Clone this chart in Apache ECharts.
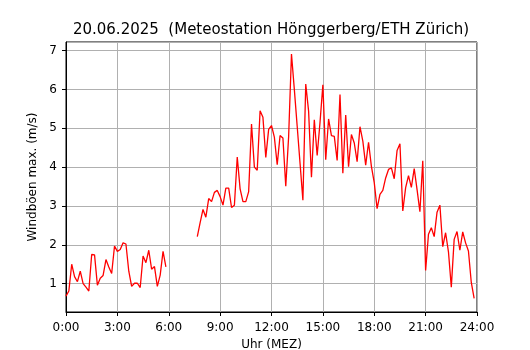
<!DOCTYPE html>
<html>
<head>
<meta charset="utf-8">
<script src="https://cdn.jsdelivr.net/npm/echarts@6/dist/echarts.min.js"></script>
<style>
  html, body { margin: 0; padding: 0; background: #fff; }
  #chart { width: 530px; height: 350px; }
</style>
</head>
<body>
<div id="chart"></div>
<script>
  // Böen-Maxima in 10-Minuten-Schritten, Nacht-Teil (0:00 - 5:50)
  const morningStart = 0 // Minuten
  const morningValues = [
    0.68, 0.81, 1.50, 1.18, 1.05, 1.32, 1.00, 0.91, 0.81, 1.75,
    1.74, 0.96, 1.14, 1.21, 1.62, 1.43, 1.26, 1.97, 1.83, 1.88,
    2.05, 2.02, 1.32, 0.93, 1.01, 1.01, 0.90, 1.71, 1.54, 1.86,
    1.37, 1.44, 0.93, 1.22, 1.83, 1.43
  ]
  // Tagesteil (7:40 - 23:50)
  const dayStart = 460 // Minuten
  const dayValues = [
    2.21, 2.57, 2.91, 2.71, 3.19, 3.11, 3.35, 3.40, 3.24, 3.02,
    3.46, 3.46, 2.96, 3.02, 4.26, 3.44, 3.11, 3.11, 3.37, 5.11,
    4.00, 3.92, 5.45, 5.28, 4.25, 4.97, 5.07, 4.77, 4.06, 4.81,
    4.75, 3.51, 4.78, 6.91, 6.00, 5.05, 4.10, 3.15, 6.14, 5.44,
    3.74, 5.22, 4.30, 5.15, 6.12, 4.19, 5.24, 4.81, 4.79, 4.17,
    5.87, 3.84, 5.34, 4.01, 4.84, 4.62, 4.14, 5.04, 4.67, 4.05,
    4.64, 4.02, 3.60, 2.93, 3.30, 3.40, 3.72, 3.94, 3.98, 3.70,
    4.43, 4.60, 2.87, 3.47, 3.78, 3.48, 3.96, 3.42, 2.85, 4.16,
    1.34, 2.27, 2.44, 2.21, 2.84, 3.02, 1.95, 2.31, 1.82, 0.91,
    2.14, 2.34, 1.86, 2.33, 2.05, 1.84, 1.03, 0.62
  ]
  const stepMinutes = 10
  const xTicks = ['0:00', '3:00', '6:00', '9:00', '12:00', '15:00', '18:00', '21:00', '24:00']

  const seriesData = []
  morningValues.forEach((v, i) => seriesData.push([morningStart + i * stepMinutes, v]))
  // Datenlücke
  seriesData.push([morningStart + morningValues.length * stepMinutes, null])
  dayValues.forEach((v, i) => seriesData.push([dayStart + i * stepMinutes, v]))

  const font = 'DejaVu Sans'
  const chart = echarts.init(document.getElementById('chart'))
  chart.setOption({
    animation: false,
    backgroundColor: '#fff',
    title: {
      text: '20.06.2025  (Meteostation Hönggerberg/ETH Zürich)',
      left: 266,
      textAlign: 'center',
      top: 18,
      textStyle: { fontFamily: font, fontSize: 15, fontWeight: 'normal', color: '#000' }
    },
    grid: {
      left: 66,
      right: 53,
      top: 42,
      bottom: 38,
      outerBoundsMode: 'none',
      containLabel: false,
      show: true,
      borderColor: '#000',
      borderWidth: 1
    },
    xAxis: {
      type: 'value',
      min: 0,
      max: 1440,
      interval: 180,
      name: 'Uhr (MEZ)',
      nameLocation: 'middle',
      nameGap: 25,
      nameTextStyle: { fontFamily: font, fontSize: 12, color: '#000' },
      axisLine: { onZero: false, lineStyle: { color: '#000' } },
      axisTick: { length: 4, lineStyle: { color: '#000' } },
      axisLabel: {
        fontFamily: font,
        fontSize: 12,
        color: '#000',
        margin: 10,
        formatter: v => xTicks[Math.round(v / 180)]
      },
      splitLine: { show: true, lineStyle: { color: '#b0b0b0', width: 1 } }
    },
    yAxis: {
      type: 'value',
      min: 0.27,
      max: 7.22,
      splitNumber: 7,
      name: 'Windböen max. (m/s)',
      nameLocation: 'middle',
      nameGap: 20,
      nameTextStyle: { fontFamily: font, fontSize: 12, color: '#000' },
      axisLine: { show: true, lineStyle: { color: '#000' } },
      axisTick: { show: true, length: 4, lineStyle: { color: '#000' } },
      axisLabel: {
        fontFamily: font,
        fontSize: 12,
        color: '#000',
        margin: 9,
        showMinLabel: false,
        showMaxLabel: false,
        formatter: v => (Math.abs(v - Math.round(v)) < 1e-6 ? String(Math.round(v)) : '')
      },
      splitLine: { show: true, lineStyle: { color: '#b0b0b0', width: 1 } }
    },
    series: [
      {
        type: 'line',
        data: seriesData,
        connectNulls: false,
        showSymbol: false,
        symbol: 'none',
        lineStyle: { color: '#ff0000', width: 1.3 },
        itemStyle: { color: '#ff0000' }
      }
    ]
  })
</script>
</body>
</html>
